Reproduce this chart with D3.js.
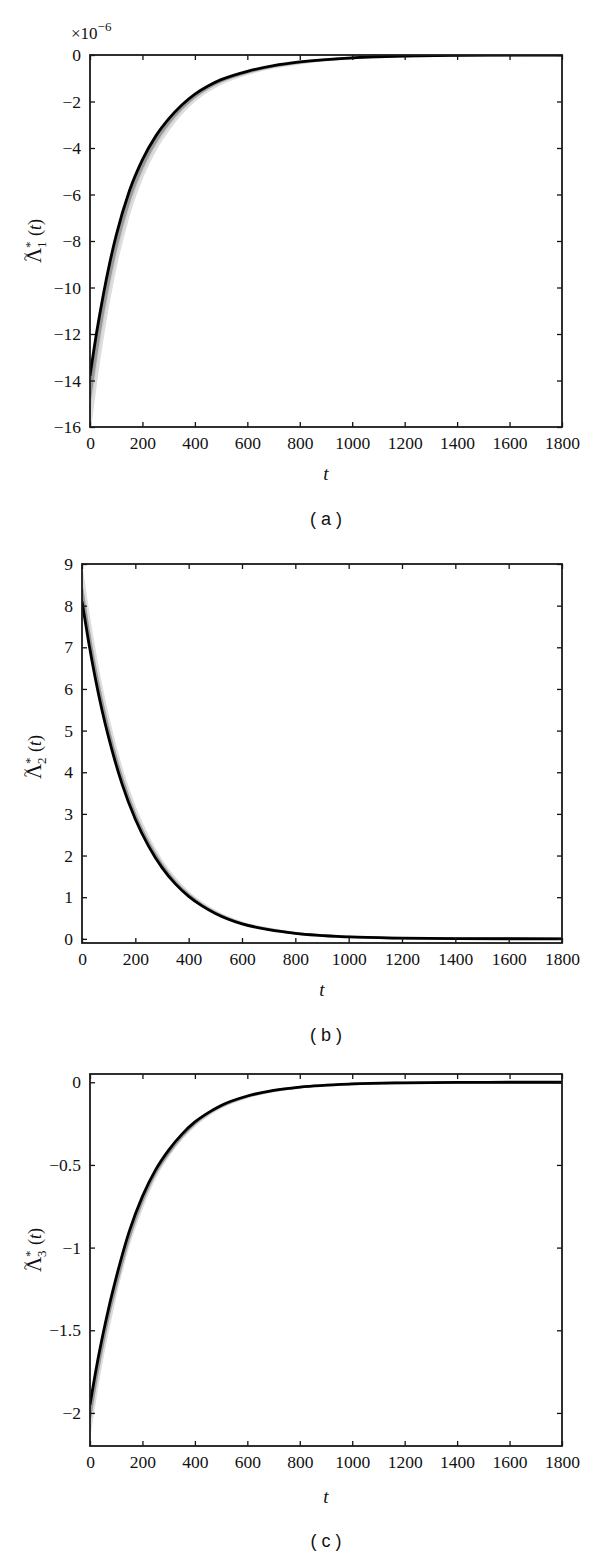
<!DOCTYPE html>
<html>
<head>
<meta charset="utf-8">
<script src="https://cdn.jsdelivr.net/npm/d3@7"></script>
<style>
  html, body { margin: 0; padding: 0; background: #fff; }
  svg { display: block; }
  .serif { font-family: "Liberation Serif", "Times New Roman", Tinos, "DejaVu Serif", serif; }
  .sans { font-family: "Liberation Sans", Arial, Arimo, "DejaVu Sans", sans-serif; }
</style>
</head>
<body>
<svg id="chart" width="600" height="1551"></svg>
<script>
// ---- data ----
const tValues = [0, 25, 50, 75, 100, 150, 200, 250, 300, 350, 400, 450, 500, 600, 700, 800, 1000, 1200, 1400, 1600, 1800];
const xTicks = [0, 200, 400, 600, 800, 1000, 1200, 1400, 1600, 1800];

// panel (a), values x 1e-6
const lambda1Core  = [-13.8, -11.95, -10.35, -8.95, -7.75, -5.85, -4.5, -3.5, -2.75, -2.15, -1.68, -1.33, -1.06, -0.70, -0.46, -0.30, -0.12, -0.045, -0.016, -0.005, 0];
const lambda1Mid   = [-14.77, -12.79, -11.07, -9.58, -8.29, -6.26, -4.82, -3.75, -2.94, -2.30, -1.80, -1.42, -1.13, -0.75, -0.49, -0.32, -0.128, -0.048, -0.017, -0.005, 0];
const lambda1Outer = [-16.0, -13.86, -12.01, -10.38, -8.99, -6.79, -5.22, -4.06, -3.19, -2.49, -1.95, -1.54, -1.23, -0.81, -0.53, -0.35, -0.14, -0.052, -0.019, -0.006, 0];
const yTicksA = [0, -2, -4, -6, -8, -10, -12, -14, -16];

// panel (b)
const lambda2Core  = [8.10, 7.12, 6.25, 5.49, 4.83, 3.72, 2.87, 2.22, 1.71, 1.32, 1.02, 0.79, 0.61, 0.36, 0.22, 0.13, 0.045, 0.016, 0.006, 0.002, 0.001];
const lambda2Mid   = [8.42, 7.40, 6.50, 5.71, 5.02, 3.87, 2.98, 2.31, 1.78, 1.37, 1.06, 0.82, 0.63, 0.37, 0.23, 0.135, 0.047, 0.017, 0.006, 0.002, 0.001];
const lambda2Outer = [8.83, 7.76, 6.81, 5.98, 5.26, 4.05, 3.13, 2.42, 1.86, 1.44, 1.11, 0.86, 0.66, 0.39, 0.24, 0.14, 0.049, 0.017, 0.007, 0.002, 0.001];
const yTicksB = [0, 1, 2, 3, 4, 5, 6, 7, 8, 9];

// panel (c)
const lambda3Core  = [-1.95, -1.72, -1.52, -1.34, -1.18, -0.90, -0.69, -0.53, -0.41, -0.315, -0.24, -0.185, -0.14, -0.083, -0.049, -0.029, -0.01, -0.0035, -0.001, 0, 0];
const lambda3Mid   = [-2.03, -1.79, -1.58, -1.39, -1.23, -0.94, -0.72, -0.55, -0.43, -0.33, -0.25, -0.19, -0.146, -0.086, -0.051, -0.03, -0.0104, -0.0036, -0.001, 0, 0];
const lambda3Outer = [-2.11, -1.86, -1.64, -1.45, -1.27, -0.97, -0.75, -0.57, -0.44, -0.34, -0.26, -0.20, -0.151, -0.09, -0.053, -0.031, -0.011, -0.0038, -0.001, 0, 0];
const yTicksC = [0, -0.5, -1, -1.5, -2];

const panels = [
  { id: "a", left: 90, right: 562, top: 55, bottom: 427, yDomain: [-16, 0], yTicks: yTicksA,
    core: lambda1Core, mid: lambda1Mid, outer: lambda1Outer, sub: "1", labelY: 236,
    xLabelY: 480, capY: 525, exponent: true },
  { id: "b", left: 82, right: 562, top: 564, bottom: 943, yDomain: [-0.1, 9], yTicks: yTicksB,
    core: lambda2Core, mid: lambda2Mid, outer: lambda2Outer, sub: "2", labelY: 752,
    xLabelY: 996, capY: 1041, exponent: false },
  { id: "c", left: 90, right: 562, top: 1074, bottom: 1446, yDomain: [-2.2, 0.05], yTicks: yTicksC,
    core: lambda3Core, mid: lambda3Mid, outer: lambda3Outer, sub: "3", labelY: 1245,
    xLabelY: 1503, capY: 1547, exponent: false }
];

const svg = d3.select("#chart");
const fmt = v => (v < 0 ? "\u2212" : "") + Math.abs(v);

panels.forEach(p => {
  const x = d3.scaleLinear().domain([0, 1800]).range([p.left, p.right]);
  const y = d3.scaleLinear().domain(p.yDomain).range([p.bottom, p.top]);
  const g = svg.append("g");

  const clipId = "clip" + p.id;
  svg.append("clipPath").attr("id", clipId)
    .append("rect").attr("x", p.left).attr("y", p.top)
    .attr("width", p.right - p.left).attr("height", p.bottom - p.top);

  const rows = tValues.map((t, k) => ({ t, c: p.core[k], m: p.mid[k], o: p.outer[k] }));
  const plot = g.append("g").attr("clip-path", `url(#${clipId})`);

  const curve = d3.curveMonotoneX;
  const areaOuter = d3.area().curve(curve).x(d => x(d.t)).y0(d => y(d.c)).y1(d => y(d.o));
  const areaMid = d3.area().curve(curve).x(d => x(d.t)).y0(d => y(d.c)).y1(d => y(d.m));
  const lineOuter = d3.line().curve(curve).x(d => x(d.t)).y(d => y(d.o));
  const lineMid = d3.line().curve(curve).x(d => x(d.t)).y(d => y(d.m));
  const lineCore = d3.line().curve(curve).x(d => x(d.t)).y(d => y(d.c));

  plot.append("path").datum(rows).attr("d", areaOuter).attr("fill", "#cfcfcf");
  plot.append("path").datum(rows).attr("d", lineOuter).attr("fill", "none")
    .attr("stroke", "#dddddd").attr("stroke-width", 2.5);
  plot.append("path").datum(rows).attr("d", areaMid).attr("fill", "#8a8a8a");
  plot.append("path").datum(rows).attr("d", lineMid).attr("fill", "none")
    .attr("stroke", "#9a9a9a").attr("stroke-width", 2.4);
  plot.append("path").datum(rows).attr("d", lineCore).attr("fill", "none")
    .attr("stroke", "#000").attr("stroke-width", 2.8);

  // axes (MATLAB box style, inward ticks)
  const tick = 5;
  const axB = d3.axisBottom(x).tickValues(xTicks).tickSize(-tick).tickPadding(10).tickFormat(d => d);
  const axT = d3.axisTop(x).tickValues(xTicks).tickSize(-tick).tickFormat("");
  const axL = d3.axisLeft(y).tickValues(p.yTicks).tickSize(-tick).tickPadding(9).tickFormat(fmt);
  const axR = d3.axisRight(y).tickValues(p.yTicks).tickSize(-tick).tickFormat("");

  const styleAxis = sel => {
    sel.attr("font-family", null).attr("font-size", null).attr("class", "serif");
    sel.select(".domain").remove();
    sel.selectAll(".tick line").attr("stroke", "#111").attr("stroke-width", 1.3);
    sel.selectAll(".tick text").attr("class", "serif").style("font-size", "17.5px").attr("fill", "#111");
  };
  g.append("g").attr("transform", `translate(0,${p.bottom})`).call(axB).call(styleAxis);
  g.append("g").attr("transform", `translate(0,${p.top})`).call(axT).call(styleAxis);
  g.append("g").attr("transform", `translate(${p.left},0)`).call(axL).call(styleAxis);
  g.append("g").attr("transform", `translate(${p.right},0)`).call(axR).call(styleAxis);

  g.append("rect").attr("x", p.left).attr("y", p.top)
    .attr("width", p.right - p.left).attr("height", p.bottom - p.top)
    .attr("fill", "none").attr("stroke", "#1a1a1a").attr("stroke-width", 1.8);

  if (p.exponent) {
    const ex = g.append("text").attr("class", "serif").attr("x", 71).attr("y", 39)
      .style("font-size", "17px").attr("fill", "#111");
    ex.append("tspan").text("\u00d710");
    ex.append("tspan").attr("dy", -8).style("font-size", "13px").text("\u22126");
  }

  // y label: tilde-Lambda, star superscript, index subscript, (t)
  const yl = g.append("g").attr("class", "serif").attr("fill", "#111")
    .attr("transform", `translate(41,${p.labelY}) rotate(-90)`);
  yl.append("text").attr("x", -27).attr("y", 0).style("font-size", "21px").text("\u039b");
  yl.append("text").attr("x", -25).attr("y", -10).style("font-size", "15px").text("~");
  yl.append("text").attr("x", -12).attr("y", -7).style("font-size", "13px").text("*");
  yl.append("text").attr("x", -12).attr("y", 5).style("font-size", "13px").text(p.sub);
  const tt = yl.append("text").attr("x", 0).attr("y", 0).style("font-size", "18px");
  tt.append("tspan").text("(");
  tt.append("tspan").style("font-style", "italic").text("t");
  tt.append("tspan").text(")");

  // x label
  g.append("text").attr("class", "serif").attr("x", (p.left + p.right) / 2).attr("y", p.xLabelY)
    .attr("text-anchor", "middle").style("font-style", "italic")
    .style("font-size", "19px").attr("fill", "#111").text("t");

  // caption
  g.append("text").attr("class", "sans").attr("x", 326).attr("y", p.capY)
    .attr("text-anchor", "middle").style("font-size", "18px").attr("fill", "#111")
    .text("( " + p.id + " )");
});
</script>
</body>
</html>
